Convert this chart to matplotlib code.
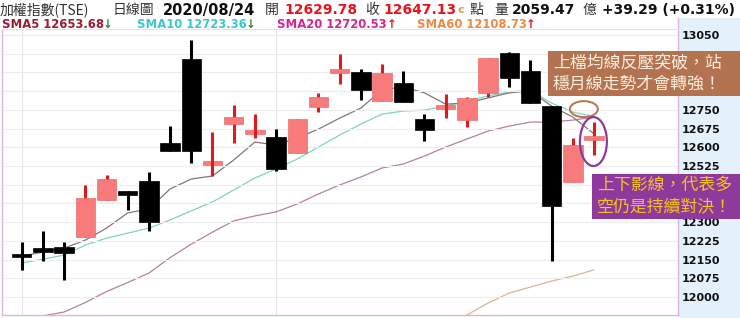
import numpy as np
import matplotlib
matplotlib.use("Agg")
import matplotlib.pyplot as plt
from matplotlib.patches import Rectangle, Ellipse
from matplotlib.lines import Line2D

# ---------------- data ----------------
dates = ['07/16', '07/17', '07/20', '07/21', '07/22', '07/23', '07/24', '07/27', '07/28', '07/29',
         '07/30', '07/31', '08/03', '08/04', '08/05', '08/06', '08/07', '08/10', '08/11', '08/12',
         '08/13', '08/14', '08/17', '08/18', '08/19', '08/20', '08/21', '08/24']
open_ = [12172, 12196, 12200, 12240, 12389, 12421, 12465, 12617, 12954, 12533,
         12693, 12657, 12641, 12577, 12761, 12898, 12902, 12785, 12858, 12713,
         12757, 12709, 12818, 12978, 12906, 12765, 12461, 12629.78]
high = [12220, 12264, 12220, 12449, 12489, 12425, 12501, 12685, 13031, 12661,
        12769, 12733, 12673, 12713, 12818, 12974, 12914, 12934, 12906, 12733,
        12814, 12801, 12958, 12982, 12950, 12765, 12637, 12701]
low = [12108, 12144, 12068, 12240, 12389, 12349, 12264, 12585, 12537, 12485,
       12617, 12637, 12505, 12577, 12741, 12854, 12789, 12785, 12781, 12625,
       12717, 12681, 12801, 12842, 12777, 12144, 12461, 12569]
close = [12162, 12182, 12176, 12397, 12473, 12413, 12300, 12585, 12585, 12541,
         12721, 12665, 12513, 12713, 12801, 12914, 12830, 12898, 12781, 12669,
         12765, 12797, 12958, 12878, 12777, 12365, 12609, 12647.13]
sma5 = [12164, 12180, 12196, 12228, 12276, 12337, 12353, 12433, 12473, 12485,
        12549, 12621, 12609, 12637, 12673, 12717, 12757, 12830, 12842, 12818,
        12773, 12777, 12798, 12818, 12826, 12765, 12721, 12654]
sma10 = [12136, 12152, 12168, 12208, 12236, 12256, 12276, 12309, 12345, 12381,
         12429, 12477, 12513, 12553, 12601, 12649, 12693, 12733, 12745, 12749,
         12765, 12785, 12806, 12822, 12828, 12777, 12741, 12723]
sma20 = [11908, 11924, 11940, 11978, 12022, 12058, 12096, 12158, 12212, 12260,
         12305, 12325, 12341, 12373, 12413, 12449, 12481, 12517, 12533, 12565,
         12601, 12633, 12665, 12685, 12701, 12701, 12709, 12721]
sma60 = [np.nan] * 20 + [11890, 11928, 11976, 12016, 12040, 12064, 12084, 12109]
yticks = list(range(12000, 13051, 75))
hidden_ticks = [12975, 12900, 12825, 12450, 12375]   # covered by the note boxes
month_marks = [0, 12]

W, H = 740, 318
fig = plt.figure(figsize=(W / 100, H / 100), dpi=100)
fig.patch.set_facecolor('white')

def fx(px):
    return px / W

def fy(py):
    return 1 - py / H

CJK = ['Noto Sans CJK TC', 'DejaVu Sans']

# right label background (behind everything)
fig.patches.append(Rectangle((fx(679), 0), fx(61), 1 - 18 / H, transform=fig.transFigure,
                             facecolor='#e4f1fb', edgecolor='none', zorder=-5))
# frame line of the SMA row
fig.lines.append(Line2D([fx(678), fx(678)], [fy(18), fy(29)], transform=fig.transFigure,
                        color='#d9b5dc', lw=1.0, zorder=-4))

ax = fig.add_axes([fx(2), 3 / H, fx(676), 286 / H])
ax.set_facecolor('white')
x = np.arange(len(dates))

ax.set_xlim(-0.93, 30.96)
ax.set_ylim(11928, 13074)

# grid
ax.set_yticks(yticks)
ax.set_yticklabels(['' if v in hidden_ticks else str(v) for v in yticks])
ax.grid(axis='y', color='#ececec', lw=0.8, zorder=0)
for m in month_marks:
    ax.axvline(x[m], color='#e6e6e6', lw=0.8, zorder=0)

# moving averages
ax.plot(x, sma60, color='#d9b592', lw=0.9, zorder=1)
ax.plot(x, sma20, color='#b47fa6', lw=0.9, zorder=1)
ax.plot(x, sma10, color='#7ed3bd', lw=0.9, zorder=1)
ax.plot(x, sma5, color='#857575', lw=0.9, zorder=1)

# candles
up_body = '#f77b7b'
up_wick = '#e0191e'
minh = 14
for i in range(len(dates)):
    o, h, l, c = open_[i], high[i], low[i], close[i]
    up = c >= o
    doji = abs(c - o) < minh
    wc = up_wick if up else 'black'
    bc = up_body if up else 'black'
    if doji:
        mid = (o + c) / 2
        b0, bh = mid - minh / 2, minh
    else:
        b0, bh = min(o, c), abs(c - o)
    ax.vlines(x[i], l, h, color=wc, lw=2.2, zorder=4 if doji else 2)
    ax.bar(x[i], bh, bottom=b0, width=0.92, color=bc,
           edgecolor=('#ec6b6b' if up else 'black'), lw=0.5, zorder=3)

# axes style
ax.yaxis.tick_right()
ax.tick_params(axis='y', which='both', left=False, right=False, labelleft=False,
               labelright=True, length=0, pad=3, labelsize=8, labelcolor='#111')
for t in ax.yaxis.get_ticklabels(which='both'):
    t.set_fontweight('bold')
for tk in ax.yaxis.get_major_ticks():
    tk.label2.set_fontweight('bold')
ax.set_xticks([])
for s in ['left', 'right', 'bottom']:
    ax.spines[s].set_color('#d9b5dc')
    ax.spines[s].set_linewidth(1.0)
ax.spines['top'].set_color('#e3e3e3')
ax.spines['top'].set_linewidth(0.8)

# annotation ellipses
ax.add_patch(Ellipse((26.52, 12753), 1.32, 64, fill=False, edgecolor='#b97a58', lw=1.5,
                     zorder=6, clip_on=False))
ax.add_patch(Ellipse((26.97, 12623), 1.27, 196, fill=False, edgecolor='#8e3a9c', lw=1.6,
                     zorder=6, clip_on=False))

# header line
hy = fy(10)
fig.text(fx(0), hy, '加權指數(TSE)', family=CJK, fontsize=10, color='#333', va='center')
fig.text(fx(113), hy, '日線圖', family=CJK, fontsize=10, color='#333', va='center')
fig.text(fx(163), hy, '2020/08/24', fontsize=10.5, fontweight='bold', color='#111', va='center')
fig.text(fx(265), hy, '開', family=CJK, fontsize=10, color='#333', va='center')
fig.text(fx(284), hy, '12629.78', fontsize=10, fontweight='bold', color='#e8141b', va='center')
fig.text(fx(365), hy, '收', family=CJK, fontsize=10, color='#333', va='center')
fig.text(fx(383), hy, '12647.13', fontsize=10, fontweight='bold', color='#e8141b', va='center')
fig.text(fx(458), hy, 'c', fontsize=8, fontweight='bold', color='#d9a050', va='center')
fig.text(fx(470), hy, '點', family=CJK, fontsize=10, color='#333', va='center')
fig.text(fx(494), hy, '量', family=CJK, fontsize=10, color='#333', va='center')
fig.text(fx(512), hy, '2059.47', fontsize=10, fontweight='bold', color='#111', va='center')
fig.text(fx(583), hy, '億', family=CJK, fontsize=10, color='#333', va='center')
fig.text(fx(602), hy, '+39.29 (+0.31%)', fontsize=10, fontweight='bold', color='#111', va='center')

# SMA row
sy = fy(25)
fig.text(fx(2), sy, 'SMA5 12653.68', fontsize=8.4, fontweight='bold', color='#9b1c31', va='center')
fig.text(fx(103), sy, '↓', fontsize=8.4, fontweight='bold', color='#2e8b2e', va='center')
fig.text(fx(137), sy, 'SMA10 12723.36', fontsize=8.4, fontweight='bold', color='#3cc8c8', va='center')
fig.text(fx(246), sy, '↓', fontsize=8.4, fontweight='bold', color='#2e8b2e', va='center')
fig.text(fx(277), sy, 'SMA20 12720.53', fontsize=8.4, fontweight='bold', color='#d4268f', va='center')
fig.text(fx(387), sy, '↑', fontsize=8.4, fontweight='bold', color='#e02020', va='center')
fig.text(fx(417), sy, 'SMA60 12108.73', fontsize=8.4, fontweight='bold', color='#ec8a45', va='center')
fig.text(fx(526), sy, '↑', fontsize=8.4, fontweight='bold', color='#e02020', va='center')

# annotation boxes
fig.patches.append(Rectangle((fx(548), fy(96)), fx(740 - 548), 45 / H, transform=fig.transFigure,
                             facecolor='#b47350', edgecolor='none', zorder=5))
fig.text(fx(553), fy(63), '上檔均線反壓突破，站', family=CJK, fontsize=12.2, color='#fbeede',
         va='center', zorder=6)
fig.text(fx(553), fy(84), '穩月線走勢才會轉強！', family=CJK, fontsize=12.2, color='#fbeede',
         va='center', zorder=6)

fig.patches.append(Rectangle((fx(592), fy(219)), fx(740 - 592), 45 / H, transform=fig.transFigure,
                             facecolor='#8e3a9c', edgecolor='none', zorder=5))
fig.text(fx(597), fy(185), '上下影線，代表多', family=CJK, fontsize=12.2, color='#f7c21a',
         va='center', zorder=6)
fig.text(fx(597), fy(206), '空仍是持續對決！', family=CJK, fontsize=12.2, color='#f7c21a',
         va='center', zorder=6)

fig.savefig('out.png', dpi=100, facecolor='white')
